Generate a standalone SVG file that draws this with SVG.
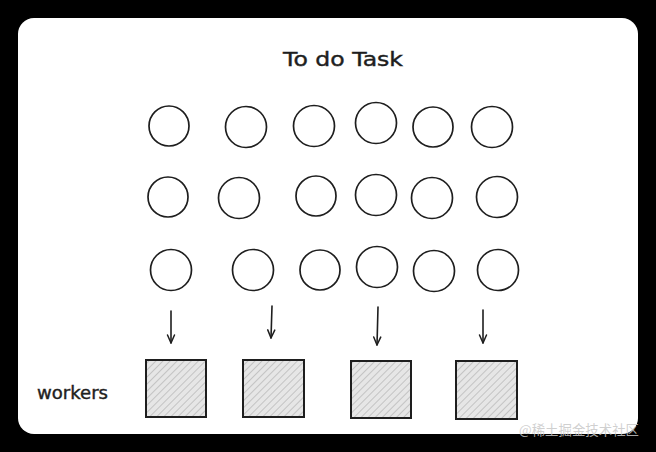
<svg xmlns="http://www.w3.org/2000/svg" width="656" height="452" viewBox="0 0 656 452">
<defs>
<pattern id="hatch" patternUnits="userSpaceOnUse" width="5" height="5" patternTransform="rotate(45)">
<rect width="5" height="5" fill="#e6e6e6"/>
<line x1="0" y1="0" x2="0" y2="5" stroke="#b4b4b4" stroke-width="1.4"/>
</pattern>
<marker id="arr" viewBox="0 0 10 10" refX="9" refY="5" markerWidth="10" markerHeight="10" markerUnits="userSpaceOnUse" orient="auto">
<path d="M1,1.5 L9,5 L1,8.5" fill="none" stroke="#1e1e1e" stroke-width="1.5" stroke-linecap="round" stroke-linejoin="round"/>
</marker>
</defs>
<style>
.task{fill:none;stroke:#1e1e1e;stroke-width:1.7}
.worker{fill:url(#hatch);stroke:#1e1e1e;stroke-width:2}
.conn{stroke:#1e1e1e;stroke-width:1.6;fill:none;stroke-linecap:round}
.lbl{font-family:"DejaVu Sans",sans-serif;fill:#1e1e1e;stroke:#1e1e1e;stroke-width:0.4}
</style>
<rect x="0" y="0" width="656" height="452" fill="#000"/>
<rect x="18" y="18" width="620" height="416" rx="16" fill="#fff"/>
<g id="title"><text class="lbl" x="343" y="66" font-size="19" text-anchor="middle" textLength="120" lengthAdjust="spacingAndGlyphs">To do Task</text></g>
<g id="tasks">
<g id="t1"><circle class="task" cx="169" cy="126" r="20"/></g>
<g id="t2"><circle class="task" cx="246" cy="127" r="20.5"/></g>
<g id="t3"><circle class="task" cx="314" cy="126" r="20.5"/></g>
<g id="t4"><circle class="task" cx="376" cy="123" r="20.5"/></g>
<g id="t5"><circle class="task" cx="433" cy="127" r="20"/></g>
<g id="t6"><circle class="task" cx="492" cy="127" r="20.5"/></g>
<g id="t7"><circle class="task" cx="168" cy="197" r="20"/></g>
<g id="t8"><circle class="task" cx="239" cy="198" r="20.5"/></g>
<g id="t9"><circle class="task" cx="316" cy="196" r="20"/></g>
<g id="t10"><circle class="task" cx="376" cy="195" r="20.5"/></g>
<g id="t11"><circle class="task" cx="432" cy="198" r="20.5"/></g>
<g id="t12"><circle class="task" cx="497" cy="197" r="20.5"/></g>
<g id="t13"><circle class="task" cx="171" cy="270" r="20.5"/></g>
<g id="t14"><circle class="task" cx="253" cy="270" r="20.5"/></g>
<g id="t15"><circle class="task" cx="320" cy="270" r="20"/></g>
<g id="t16"><circle class="task" cx="377" cy="267" r="20.5"/></g>
<g id="t17"><circle class="task" cx="434" cy="271" r="20.5"/></g>
<g id="t18"><circle class="task" cx="498" cy="270" r="20.5"/></g>
</g>
<g id="connectors">
<line class="conn" x1="171" y1="311" x2="171" y2="343" marker-end="url(#arr)"/>
<line class="conn" x1="272" y1="306" x2="271" y2="338" marker-end="url(#arr)"/>
<line class="conn" x1="378" y1="307" x2="377" y2="345" marker-end="url(#arr)"/>
<line class="conn" x1="483" y1="310" x2="483" y2="343" marker-end="url(#arr)"/>
</g>
<g id="workers-label"><text class="lbl" x="37" y="399" font-size="17" textLength="71" lengthAdjust="spacingAndGlyphs">workers</text></g>
<g id="w1"><rect class="worker" x="146" y="360" width="60" height="57"/></g>
<g id="w2"><rect class="worker" x="243" y="360" width="61" height="57"/></g>
<g id="w3"><rect class="worker" x="351" y="361" width="60" height="57"/></g>
<g id="w4"><rect class="worker" x="456" y="361" width="61" height="58"/></g>
<g id="watermark"><text x="519" y="435" font-size="13.5" font-family="'Noto Sans CJK SC',sans-serif" fill="#c8c8c8" fill-opacity="0.85" textLength="120" lengthAdjust="spacingAndGlyphs">@稀土掘金技术社区</text></g>
</svg>
